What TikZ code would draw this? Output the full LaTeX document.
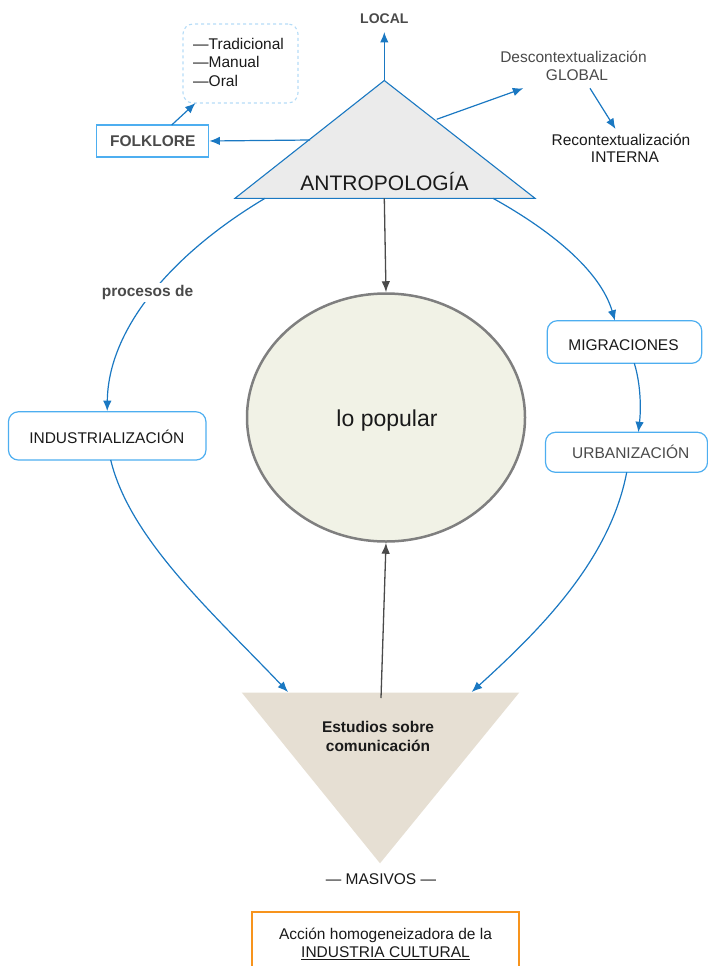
\documentclass[tikz,border=0pt]{standalone}
\usepackage{fontspec}
\setmainfont{Liberation Sans}
\usetikzlibrary{arrows.meta,shapes.geometric}

\definecolor{arrowblue}{HTML}{1A78C2}
\definecolor{boxblue}{HTML}{4DAEF0}
\definecolor{dashblue}{HTML}{B5DCF7}
\definecolor{trifill}{HTML}{EBEBEB}
\definecolor{popfill}{HTML}{F1F2E6}
\definecolor{popline}{HTML}{7F7F7F}
\definecolor{arrowgray}{HTML}{4A4A4A}
\definecolor{beige}{HTML}{E6DFD3}
\definecolor{orangeline}{HTML}{F7941D}
\definecolor{txtdark}{HTML}{1A1A1A}
\definecolor{txtgray}{HTML}{4A4A4A}

\begin{document}
\begin{tikzpicture}[x=1pt,y=-1pt,
  every node/.style={font=\fontsize{15.5}{18.5}\selectfont, text=txtdark, inner sep=0pt},
  label/.style={anchor=base, align=center},
  blueArrow/.style={draw=arrowblue, line width=1.2pt, -{Latex[length=10.5pt,width=8.5pt]}},
  grayArrow/.style={draw=arrowgray, line width=1.3pt, -{Latex[length=11pt,width=8.5pt]}},
  roundbox/.style={draw=boxblue, line width=1.2pt, rounded corners=10pt, fill=white},
]
\useasboundingbox (0,0) rectangle (707,966);

% ---- upper triangle: ANTROPOLOGIA ----
\coordinate (apex) at (384.3,80.5);
\coordinate (tbl) at (235,198.3);
\coordinate (tbr) at (535,198.3);
\filldraw[fill=trifill, draw=arrowblue, line width=1.1pt] (apex) -- (tbr) -- (tbl) -- cycle;
\node[label] (antro) at (384.5,190) {\fontsize{21}{24}\selectfont ANTROPOLOG\'IA};

% points where the connectors leave the triangle
\coordinate (antroW) at (310,140);
\coordinate (antroNE) at (436.7,119.3);
\coordinate (antroB) at (384.3,198.3);
\coordinate (antroBL) at (265,198.3);
\coordinate (antroBR) at (493,198.3);

% ---- LOCAL ----
\node[label, font=\bfseries\fontsize{14}{17}\selectfont, text=txtgray] (local) at (384.3,24) {LOCAL};
\coordinate (localEnd) at (384.3,32);
\draw[blueArrow] (apex) -- (localEnd);

% ---- FOLKLORE and its traits ----
\node[draw=boxblue, line width=1.2pt, fill=white, minimum width=112pt, minimum height=32pt,
      font=\bfseries\fontsize{15.5}{18.5}\selectfont, text=txtgray] (folk) at (152.8,141) {FOLKLORE};
\draw[blueArrow] (antroW) -- (folk.east);

\node[draw=dashblue, dashed, line width=1.1pt, rounded corners=10pt,
      minimum width=115pt, minimum height=79pt] (traits) at (240.5,63.5) {};
\node[anchor=base west] (trad) at (193,49.3) {—Tradicional};
\node[anchor=base west] (manual) at (193,67.7) {—Manual};
\node[anchor=base west] (oral) at (193,86) {—Oral};
\coordinate (folkNE) at (171.7,125);
\coordinate (traitsSW) at (195.5,103);
\draw[blueArrow] (folkNE) -- (traitsSW);

% ---- global / internal ----
\node[anchor=base, text=txtgray] (desc1) at (573.5,62.3) {Descontextualización};
\node[anchor=base, text=txtgray] (desc2) at (577,81) {GLOBAL};
\coordinate (descIn) at (523.3,88.3);
\draw[blueArrow] (antroNE) -- (descIn);

\node[anchor=base] (rec1) at (621,145) {Recontextualización};
\node[anchor=base] (rec2) at (625,162.3) {INTERNA};
\coordinate (descOut) at (590,88.3);
\coordinate (recIn) at (615.5,129);
\draw[blueArrow] (descOut) -- (recIn);

% ---- lo popular ----
\node[ellipse, draw=popline, line width=2.5pt, fill=popfill,
      minimum width=278pt, minimum height=248pt] (popular) at (386,417.5) {};
\node[label] (poptext) at (387,426.7) {\fontsize{23}{26}\selectfont lo popular};
\draw[grayArrow] (antroB) -- (popular.north);

% ---- left branch ----
\node[roundbox, minimum width=197.5pt, minimum height=48.3pt] (indus) at (107.2,435.9) {};
\node[label] (industext) at (106.8,443.3) {INDUSTRIALIZACIÓN};
\draw[blueArrow] (antroBL) .. controls (170,255) and (108,330) .. (indus.north);
\node[label, fill=white, inner sep=2pt, font=\bfseries\fontsize{15.5}{18.5}\selectfont, text=txtgray]
  (procesos) at (147.5,296.7) {procesos de};

% ---- right branch ----
\node[roundbox, minimum width=154.4pt, minimum height=42.6pt] (migra) at (624.5,342) {};
\node[label] (migratext) at (623.5,350) {MIGRACIONES};
\draw[blueArrow] (antroBR) .. controls (550,230) and (600,270) .. (615,320.7);

\node[roundbox, minimum width=162pt, minimum height=40pt] (urban) at (626.5,452.3) {};
\node[label, text=txtgray] (urbantext) at (630.8,458.3) {URBANIZACIÓN};
\coordinate (migraS) at (634.3,363.3);
\coordinate (urbanN) at (638.3,432.3);
\draw[blueArrow] (migraS) .. controls (641,385) and (641,410) .. (urbanN);

% ---- lower triangle: communication studies ----
\coordinate (btl) at (241.7,692.5);
\coordinate (btr) at (519.3,692.5);
\coordinate (bapex) at (380,863.3);
\fill[beige] (btl) -- (btr) -- (bapex) -- cycle;
\node[anchor=base, font=\bfseries\fontsize{15.5}{18.5}\selectfont] (estudios1) at (378,732.7) {Estudios sobre};
\node[anchor=base, font=\bfseries\fontsize{15.5}{18.5}\selectfont] (estudios2) at (378,751.3) {comunicación};

\coordinate (indusS) at (110.7,460);
\coordinate (studiesNW) at (288,692);
\draw[blueArrow] (indusS) .. controls (130,540) and (215,615) .. (studiesNW);
\coordinate (urbanS) at (626.7,472.3);
\coordinate (studiesNE) at (471.7,692);
\draw[blueArrow] (urbanS) .. controls (610,560) and (540,630) .. (studiesNE);

\coordinate (studiesTop) at (381,698);
\draw[grayArrow] (studiesTop) -- (popular.south);

\node[anchor=base] (masivos) at (381,884.3) {— MASIVOS —};

% ---- cultural industry ----
\node[draw=orangeline, line width=1.4pt, minimum width=267pt, minimum height=64pt,
      align=center] (industria) at (385.5,944) {Acción homogeneizadora de la\\ \underline{INDUSTRIA CULTURAL}};
\end{tikzpicture}
\end{document}
